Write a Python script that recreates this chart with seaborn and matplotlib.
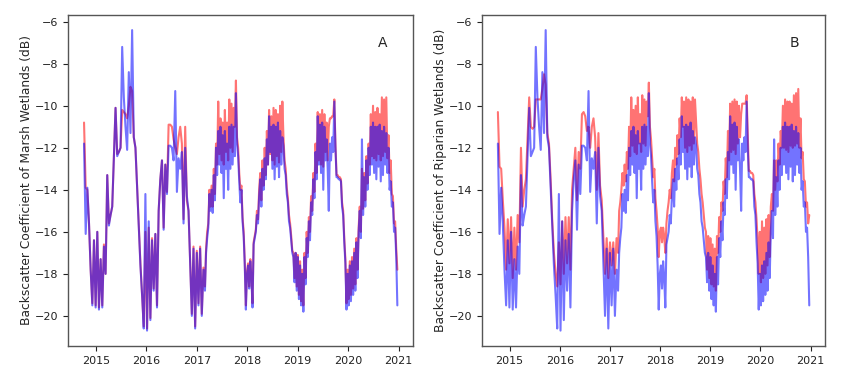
import matplotlib
matplotlib.use("Agg")
import matplotlib.pyplot as plt
import matplotlib.dates as mdates
import numpy as np
import pandas as pd
import seaborn as sns

# ---------------- data ----------------
# sparse early period: one value every 12 days starting 2014-10-08
blue_early = [-11.8, -16.1, -13.9, -15.6, -17.8, -19.5, -16.4, -19.6, -16.0, -19.7,
              -17.3, -19.6, -16.7, -18.0, -13.3, -15.7, -15.2, -14.8, -12.5, -10.1,
              -12.4, -12.2, -12.0, -7.2, -9.6, -11.0, -12.1, -8.4, -11.3, -6.4,
              -11.5, -12.0, -13.9, -15.8, -17.6, -19.0, -20.6, -14.2, -20.7, -15.5,
              -20.2, -16.4, -18.8, -16.1, -19.6, -15.0, -13.5, -12.6, -15.9, -12.8,
              -14.2, -11.9, -11.9, -12.0, -12.6, -9.3, -14.1, -12.5, -13.0, -12.2,
              -15.6, -12.0, -14.3, -15.0, -17.5, -20.0, -16.8, -20.6, -17.0, -19.5,
              -16.8, -20.0, -17.8]
marsh_early = [-10.8, -13.9, -14.0, -15.6, -17.8, -19.4, -16.4, -19.5, -16.0, -19.6,
               -17.3, -19.5, -16.6, -18.0, -13.3, -15.6, -15.2, -14.8, -12.5, -10.1,
               -12.3, -12.2, -12.0, -10.2, -10.3, -10.4, -10.6, -10.0, -9.1, -9.3,
               -11.5, -12.0, -13.8, -15.7, -17.5, -19.0, -20.5, -16.0, -20.6, -15.8,
               -20.1, -16.3, -18.7, -16.1, -19.5, -15.0, -13.5, -12.6, -15.8, -12.8,
               -14.1, -10.9, -10.9, -11.0, -11.6, -12.0, -12.3, -11.5, -11.0, -11.8,
               -15.4, -11.0, -14.5, -15.0, -17.4, -19.9, -16.7, -20.5, -16.9, -19.4,
               -16.7, -19.9, -17.7]
riparian_early = [-10.3, -12.9, -13.0, -14.5, -15.8, -17.8, -15.4, -17.5, -15.3, -18.2,
                  -15.8, -17.8, -15.2, -16.5, -12.0, -14.8, -14.0, -13.5, -11.5, -9.6,
                  -11.0, -11.1, -11.0, -9.7, -9.7, -9.7, -9.7, -9.2, -8.5, -9.0,
                  -11.3, -11.8, -13.5, -15.5, -17.0, -18.0, -18.6, -16.5, -18.5, -15.5,
                  -18.0, -15.3, -17.5, -15.3, -17.8, -14.0, -13.0, -12.0, -14.5, -12.2,
                  -13.0, -10.4, -10.3, -10.5, -11.2, -11.0, -12.0, -11.0, -10.6, -11.5,
                  -14.0, -11.3, -13.8, -14.5, -16.3, -18.0, -16.3, -18.2, -16.5, -17.6,
                  -16.5, -18.0, -16.3]

# dense later period: one value every 8 days starting 2017-03-01
blue_late = [-18.8, -17.0, -16.3, -15.8, -14.2, -15.0, -14.0, -15.1, -13.3, -14.5,
             -12.0, -13.3, -11.2, -12.8, -11.0, -13.2, -11.4, -14.4, -11.2, -13.0,
             -11.8, -14.0, -11.0, -13.0, -10.9, -12.8, -11.0, -12.4, -9.4, -11.8,
             -12.4, -13.6, -14.6, -14.0, -15.5, -16.2, -17.6, -19.7, -18.0, -17.6,
             -18.7, -17.4, -18.2, -19.6, -16.6, -16.3, -16.0, -15.2, -15.6, -14.3,
             -13.5, -14.8, -13.0, -14.0, -12.5, -13.5, -11.6, -12.8, -10.5, -12.2,
             -11.0, -13.0, -10.9, -13.5, -11.0, -12.9, -10.8, -13.4, -11.2, -12.8,
             -11.5, -11.9, -13.0, -13.3, -14.2, -14.6, -15.5, -15.8, -16.4, -17.0,
             -17.2, -18.4, -17.0, -18.8, -17.2, -19.2, -17.6, -19.5, -18.0, -19.8,
             -17.2, -18.5, -16.3, -17.2, -15.5, -16.4, -14.6, -15.2, -13.5, -14.4,
             -12.2, -13.5, -10.5, -12.8, -10.9, -13.2, -10.8, -14.0, -11.0, -12.6,
             -11.6, -13.0, -15.0, -11.8, -12.6, -11.5, -12.2, -9.8, -12.0, -13.4,
             -13.4, -13.5, -13.5, -13.6, -14.8, -15.2, -16.5, -17.5, -19.7, -18.0,
             -19.5, -17.6, -19.3, -17.4, -19.0, -17.0, -18.8, -16.5, -18.2, -16.0,
             -15.0, -16.3, -11.6, -15.2, -13.4, -14.8, -12.6, -14.0, -12.0, -13.3,
             -11.0, -12.8, -10.8, -13.2, -11.0, -13.5, -11.0, -12.9, -10.9, -13.6,
             -11.2, -13.3, -11.0, -12.8, -11.3, -13.2, -12.0, -14.0, -13.6, -14.8,
             -14.6, -16.0, -15.8, -17.2, -19.5]
marsh_late = [-18.6, -16.8, -16.0, -15.6, -14.0, -14.8, -13.8, -14.8, -13.0, -14.2,
              -11.8, -12.8, -9.8, -12.3, -10.6, -12.6, -10.8, -12.8, -10.2, -12.2,
              -10.8, -12.6, -9.7, -12.0, -9.9, -12.2, -10.1, -11.0, -8.8, -11.5,
              -12.0, -13.2, -14.0, -13.8, -15.3, -16.0, -17.4, -19.5, -17.9, -17.5,
              -18.6, -17.3, -18.1, -19.4, -16.5, -16.2, -15.9, -15.0, -15.4, -14.0,
              -13.2, -14.5, -12.6, -13.8, -12.0, -13.3, -11.2, -12.8, -10.2, -12.3,
              -10.5, -12.6, -10.1, -12.8, -10.2, -12.4, -10.4, -12.7, -10.0, -12.2,
              -9.8, -11.5, -12.6, -13.0, -13.9, -14.4, -15.2, -15.6, -16.2, -16.9,
              -17.0, -18.2, -17.0, -18.6, -17.1, -19.0, -17.4, -19.3, -17.8, -19.5,
              -17.0, -18.2, -16.0, -17.0, -15.3, -16.0, -14.3, -15.0, -13.2, -14.1,
              -11.8, -13.2, -10.3, -12.6, -10.4, -12.8, -10.2, -12.9, -10.4, -12.2,
              -10.8, -12.6, -11.0, -10.6, -10.6, -10.5, -10.5, -9.7, -11.8, -13.3,
              -13.3, -13.4, -13.4, -13.5, -14.6, -15.0, -16.3, -17.3, -19.4, -17.8,
              -19.2, -17.4, -19.0, -17.2, -18.7, -16.8, -18.5, -16.3, -17.8, -15.8,
              -14.8, -16.0, -13.0, -14.9, -13.2, -14.5, -12.4, -13.7, -11.8, -12.8,
              -10.4, -12.4, -10.0, -12.5, -10.3, -12.6, -10.1, -12.3, -10.4, -12.6,
              -9.6, -12.4, -9.7, -12.2, -9.6, -12.5, -11.4, -13.2, -12.6, -14.2,
              -14.3, -15.6, -15.5, -16.8, -17.8]
riparian_late = [-17.0, -15.0, -14.6, -14.0, -13.2, -13.8, -12.8, -13.6, -12.2, -13.0,
                 -11.0, -12.4, -9.6, -11.9, -10.2, -12.2, -10.0, -12.3, -9.6, -11.8,
                 -10.4, -12.2, -9.5, -11.8, -9.7, -11.9, -9.8, -10.5, -8.9, -11.0,
                 -11.6, -12.5, -13.4, -13.0, -14.4, -15.0, -15.8, -17.2, -16.0, -15.8,
                 -16.5, -15.8, -16.2, -17.0, -15.6, -15.0, -14.6, -14.0, -14.4, -13.2,
                 -12.6, -13.6, -12.0, -12.8, -11.4, -12.3, -10.6, -11.5, -9.6, -11.0,
                 -9.8, -12.0, -9.6, -12.2, -9.7, -11.9, -9.8, -12.1, -9.6, -11.8,
                 -9.7, -10.8, -11.8, -12.2, -13.0, -13.5, -14.2, -14.6, -15.2, -15.8,
                 -16.0, -17.8, -16.2, -18.2, -16.3, -18.5, -16.6, -18.6, -16.8, -18.8,
                 -16.2, -17.0, -15.3, -16.0, -14.6, -15.0, -13.6, -14.2, -12.5, -13.4,
                 -11.2, -12.6, -9.9, -12.2, -9.8, -12.1, -9.7, -12.3, -9.8, -11.8,
                 -10.0, -11.5, -10.4, -9.9, -9.9, -9.9, -9.9, -9.5, -11.3, -13.1,
                 -13.1, -13.2, -13.2, -13.3, -14.2, -14.6, -15.4, -16.4, -18.0, -16.0,
                 -18.4, -15.5, -18.2, -15.8, -18.0, -15.4, -17.6, -15.2, -17.2, -14.8,
                 -14.2, -15.0, -12.6, -14.0, -12.6, -13.6, -11.8, -12.8, -11.2, -12.0,
                 -10.0, -12.0, -9.7, -12.1, -9.8, -12.2, -9.8, -11.9, -9.9, -12.0,
                 -9.5, -11.9, -9.4, -11.8, -9.2, -12.0, -10.6, -12.5, -12.2, -13.5,
                 -13.6, -14.8, -14.6, -15.6, -15.2]

panel_labels = ["A", "B"]
ylabels = ["Backscatter Coefficient of Marsh Wetlands (dB)",
           "Backscatter Coefficient of Riparian Wetlands (dB)"]

# ---------------- build series ----------------
def dates_for(early, late):
    d1 = pd.date_range("2014-10-08", periods=len(early), freq="12D")
    d2 = pd.date_range("2017-03-01", periods=len(late), freq="8D")
    return d1.append(d2)

blue = pd.DataFrame({"date": dates_for(blue_early, blue_late),
                     "value": blue_early + blue_late})
marsh = pd.DataFrame({"date": dates_for(marsh_early, marsh_late),
                      "value": marsh_early + marsh_late})
riparian = pd.DataFrame({"date": dates_for(riparian_early, riparian_late),
                         "value": riparian_early + riparian_late})

# ---------------- plot ----------------
sns.set_style("ticks")
plt.rcParams["font.family"] = ["DejaVu Sans"]
plt.rcParams["axes.unicode_minus"] = True

fig = plt.figure(figsize=(8.5, 3.74), dpi=100)
ax1 = fig.add_axes([0.080, 0.075, 0.406, 0.885])
ax2 = fig.add_axes([0.567, 0.075, 0.4035, 0.885])

for ax, red_df, lab, yl in zip([ax1, ax2], [marsh, riparian], panel_labels, ylabels):
    sns.lineplot(data=red_df, x="date", y="value", ax=ax, color="red",
                 alpha=0.55, lw=1.5, estimator=None)
    sns.lineplot(data=blue, x="date", y="value", ax=ax, color="blue",
                 alpha=0.55, lw=1.5, estimator=None)
    ax.xaxis.set_major_locator(mdates.YearLocator())
    ax.xaxis.set_major_formatter(mdates.DateFormatter("%Y"))
    ax.set_yticks([-6, -8, -10, -12, -14, -16, -18, -20])
    ax.set_ylim(-21.43, -5.68)
    ax.set_xlim(pd.Timestamp("2014-06-14"), pd.Timestamp("2021-04-15"))
    ax.set_xlabel("")
    ax.set_ylabel(yl, fontsize=8.8, labelpad=1.5)
    ax.tick_params(labelsize=8, length=3.5, width=0.8, colors="#222222")
    for s in ax.spines.values():
        s.set_color("#555555")
        s.set_linewidth(1.0)
    ax.text(0.912, 0.915, lab, transform=ax.transAxes, fontsize=10,
            ha="center", va="center")

fig.savefig("out.png", dpi=100)
